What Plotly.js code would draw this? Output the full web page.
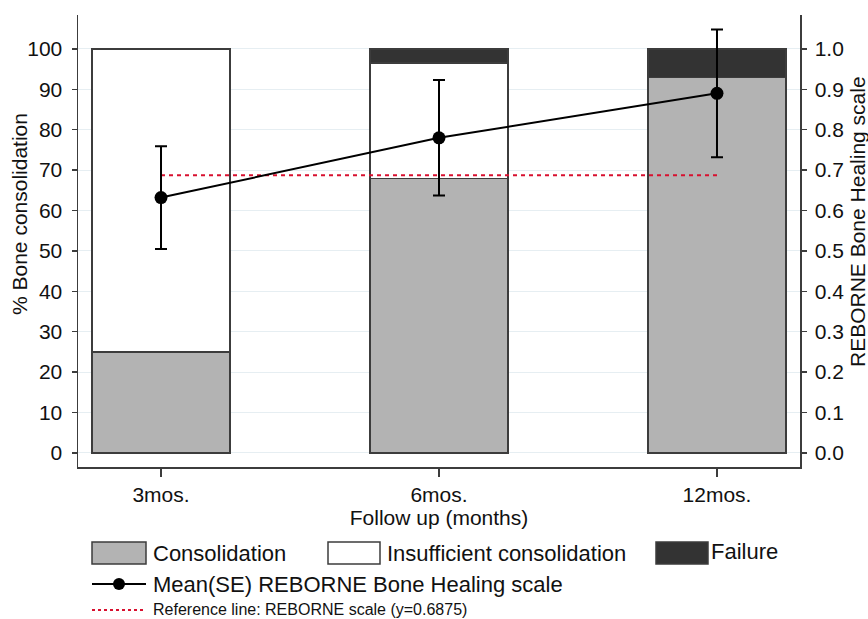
<!DOCTYPE html>
<html>
<head>
<meta charset="utf-8">
<script src="https://cdn.plot.ly/plotly-3.0.1.min.js"></script>
<style>html,body{margin:0;padding:0;background:#fff;}#chart{width:868px;height:619px;}</style>
</head>
<body>
<div id="chart"></div>
<script>
// ---- data ----
const categories = ['3mos.', '6mos.', '12mos.'];
const consolidation = [25, 67.9, 92.9];
const insufficient = [75, 28.6, 0];
const failure = [0, 3.5, 7.1];
const meanScale = [0.632, 0.78, 0.89];
const seScale = [0.127, 0.143, 0.158];
const referenceValue = [0.6875, 0.6875, 0.6875];
const seriesNames = ['Consolidation', 'Insufficient consolidation', 'Failure',
  'Mean(SE) REBORNE Bone Healing scale', 'Reference line: REBORNE scale (y=0.6875)'];

// ---- style ----
const FONT = 'Liberation Sans, Arial, sans-serif';
const INK = '#111111';
const GRAY = '#b3b3b3';
const DARK = '#333333';
const OUTLINE = '#3c3c3c';
const RED = '#d8102f';
const GRID = '#e6eef2';

// plot area in pixels
const L = 78, R = 800, T = 15, B = 467;
const px = x => (x - L) / (R - L);
const py = y => (B - y) / (B - T);

const barCommon = {type: 'bar', x: categories, width: 0.497, yaxis: 'y', xaxis: 'x', showlegend: false};
const traces = [
  Object.assign({}, barCommon, {name: seriesNames[0], y: consolidation,
    marker: {color: GRAY, line: {color: OUTLINE, width: 1.5}}}),
  Object.assign({}, barCommon, {name: seriesNames[1], y: insufficient,
    marker: {color: '#ffffff', line: {color: OUTLINE, width: 1.5}}}),
  Object.assign({}, barCommon, {name: seriesNames[2], y: failure,
    marker: {color: DARK, line: {color: OUTLINE, width: 1.5}}}),
  {type: 'scatter', mode: 'lines', name: seriesNames[4], x: categories, y: referenceValue,
    yaxis: 'y2', showlegend: false, line: {color: RED, width: 2, dash: '4px,4px'}},
  {type: 'scatter', mode: 'lines+markers', name: seriesNames[3], x: categories, y: meanScale,
    yaxis: 'y2', showlegend: false,
    line: {color: '#000', width: 2}, marker: {color: '#000', size: 13},
    error_y: {type: 'data', array: seScale, visible: true, color: '#000', thickness: 2, width: 6}}
];

// manual legend (Stata style)
const shapes = [];
const annotations = [];
function swatch(x0, x1, y0, y1, fill) {
  shapes.push({type: 'rect', xref: 'paper', yref: 'paper', x0: px(x0), x1: px(x1), y0: py(y1), y1: py(y0),
    fillcolor: fill, line: {color: OUTLINE, width: 1.5}});
}
function label(x, y, text, size) {
  annotations.push({xref: 'paper', yref: 'paper', x: px(x), y: py(y), xanchor: 'left', yanchor: 'middle',
    text: text, showarrow: false, font: {family: FONT, size: size, color: INK}});
}
swatch(92, 146, 542, 564, GRAY);
label(151, 553, seriesNames[0], 22);
swatch(328, 380, 542, 564, '#ffffff');
label(385, 553, seriesNames[1], 22);
swatch(656, 708, 542, 564, DARK);
label(709, 551, seriesNames[2], 22);
shapes.push({type: 'line', xref: 'paper', yref: 'paper', x0: px(92), x1: px(146), y0: py(584), y1: py(584),
  line: {color: '#000', width: 2}});
shapes.push({type: 'circle', xref: 'paper', yref: 'paper', x0: px(113), x1: px(125), y0: py(590), y1: py(578),
  fillcolor: '#000', line: {color: '#000', width: 0}});
label(151, 584, seriesNames[3], 22);
shapes.push({type: 'line', xref: 'paper', yref: 'paper', x0: px(92), x1: px(146), y0: py(610), y1: py(610),
  line: {color: RED, width: 2, dash: '3px,3px'}});
label(151, 609, seriesNames[4], 16);

// axis titles
annotations.push({xref: 'paper', yref: 'paper', x: px(20), y: py(214), textangle: -90,
  xanchor: 'center', yanchor: 'middle',
  text: '% Bone consolidation', showarrow: false, font: {family: FONT, size: 21, color: INK}});
annotations.push({xref: 'paper', yref: 'paper', x: px(857), y: py(222), textangle: -90,
  xanchor: 'center', yanchor: 'middle',
  text: 'REBORNE Bone Healing scale', showarrow: false, font: {family: FONT, size: 21, color: INK}});

const layout = {
  width: 868, height: 619,
  margin: {l: L, r: 868 - R, t: T, b: 619 - B, pad: 0},
  paper_bgcolor: '#ffffff', plot_bgcolor: '#ffffff',
  font: {family: FONT, size: 21, color: INK},
  barmode: 'stack',
  showlegend: false,
  xaxis: {
    type: 'category', range: [-0.2986, 2.2986],
    showline: true, linecolor: OUTLINE, linewidth: 1.5,
    ticks: 'outside', ticklen: 8, tickwidth: 1.5, tickcolor: OUTLINE,
    showgrid: false, zeroline: false,
    tickfont: {family: FONT, size: 21, color: INK},
    title: {text: 'Follow up (months)', font: {family: FONT, size: 21, color: INK}, standoff: 2}
  },
  yaxis: {
    range: [-3.5, 108.4], dtick: 10, tick0: 0,
    showline: true, linecolor: OUTLINE, linewidth: 1.5,
    ticks: 'outside', ticklen: 5, tickwidth: 1.5, tickcolor: OUTLINE,
    showgrid: true, gridcolor: GRID, gridwidth: 1, zeroline: false,
    tickfont: {family: FONT, size: 21, color: INK}, ticklabelstandoff: 5
  },
  yaxis2: {
    overlaying: 'y', side: 'right',
    range: [-0.035, 1.084], dtick: 0.1, tick0: 0, tickformat: '.1f',
    showline: true, linecolor: OUTLINE, linewidth: 1.5,
    ticks: 'outside', ticklen: 5, tickwidth: 1.5, tickcolor: OUTLINE,
    showgrid: false, zeroline: false,
    tickfont: {family: FONT, size: 21, color: INK}, ticklabelstandoff: 4
  },
  shapes: shapes,
  annotations: annotations
};

Plotly.newPlot('chart', traces, layout, {staticPlot: true, displayModeBar: false});
</script>
</body>
</html>
